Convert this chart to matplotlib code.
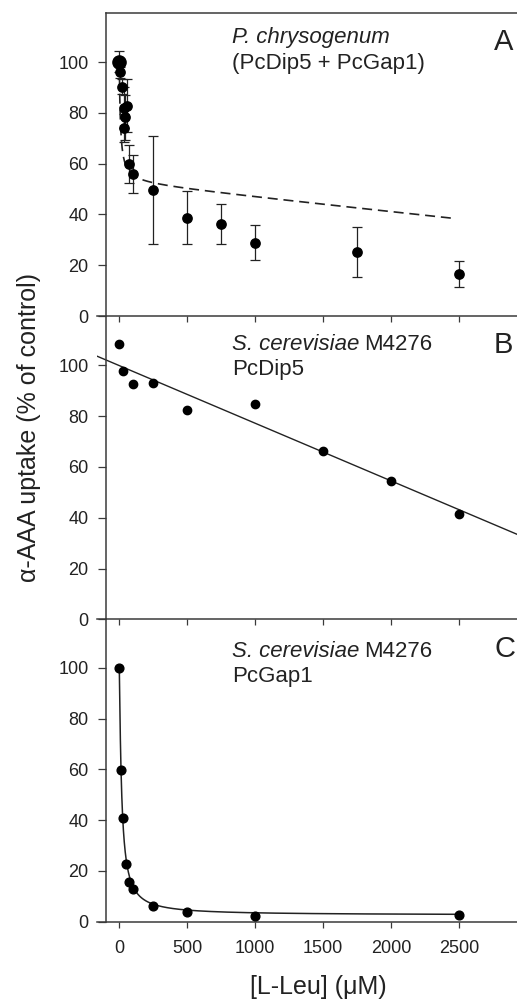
import numpy as np
import matplotlib
matplotlib.use("Agg")
import matplotlib.pyplot as plt

plt.rcParams['font.family'] = ['Liberation Sans', 'DejaVu Sans']

# ---------------- data ----------------
# Panel A: P. chrysogenum (PcDip5 + PcGap1), mean +/- error
a_x = [0, 5, 17, 32, 34, 42, 54, 75, 100, 250, 500, 750, 1000, 1750, 2500]
a_y = [100.1, 95.9, 90.3, 74.1, 82.0, 78.2, 82.8, 59.8, 55.8, 49.6, 38.7, 36.1, 28.9, 25.3, 16.5]
a_err = [4.2, 2.0, 3.0, 5.5, 8.0, 9.0, 10.5, 7.4, 7.5, 21.1, 10.4, 7.9, 6.9, 9.9, 5.0]
# dashed model curve for panel A: fast saturable part + slow linear part
a_fast_amp, a_fast_k, a_base, a_slope = 47.7, 8.7, 52.3, 0.0057
a_curve_xmax = 2470

# Panel B: S. cerevisiae M4276 PcDip5
b_x = [0, 25, 100, 250, 500, 1000, 1500, 2000, 2500]
b_y = [108.5, 97.6, 92.8, 93.1, 82.6, 84.7, 66.1, 54.5, 41.3]
b_intercept, b_slope = 99.9, -0.0227

# Panel C: S. cerevisiae M4276 PcGap1
c_x = [0, 10, 25, 50, 75, 100, 250, 500, 1000, 2500]
c_y = [100.0, 59.7, 40.9, 22.8, 15.7, 12.7, 6.2, 3.7, 2.2, 2.6]
c_bottom, c_k, c_hill = 2.6, 17.2, 1.15

x_ticks = [0, 500, 1000, 1500, 2000, 2500]
y_ticks = [0, 20, 40, 60, 80, 100]

panel_letters = ['A', 'B', 'C']

# ---------------- layout ----------------
W, H = 517, 1000
fig = plt.figure(figsize=(W / 100, H / 100), dpi=100)

XMIN, XMAX = -164, 2926
YMIN, YMAX = 0, 119.2
SPINE_X = -98
ax_left = 97 / W
ax_width = (517 - 97) / W
bottoms_px = [316.0, 619.3, 921.7]
height_px = 302.7

dark = '#222222'
spine_col = '#3a3a3a'

axes = []
for i, bpx in enumerate(bottoms_px):
    ax = fig.add_axes([ax_left, 1 - bpx / H, ax_width, height_px / H])
    ax.set_xlim(XMIN, XMAX)
    ax.set_ylim(YMIN, YMAX)
    ax.set_facecolor('none')
    ax.spines['right'].set_visible(False)
    ax.spines['left'].set_position(('data', SPINE_X))
    if i == 0:
        ax.spines['top'].set_bounds(SPINE_X, XMAX)
    else:
        ax.spines['top'].set_visible(False)
    for s in ['left', 'bottom', 'top']:
        ax.spines[s].set_color(spine_col)
        ax.spines[s].set_linewidth(1.1)
    ax.set_xticks(x_ticks)
    ax.set_yticks(y_ticks)
    ax.tick_params(axis='y', direction='out', length=5.5, width=0.9, pad=7.0,
                   labelsize=13, colors=spine_col, labelcolor=dark)
    ax.tick_params(axis='x', direction='out', length=4.5, width=0.9, pad=9,
                   labelsize=13, colors=spine_col, labelcolor=dark,
                   labelbottom=(i == 2))
    axes.append(ax)

axA, axB, axC = axes

# Panel A
xa = np.linspace(0, a_curve_xmax, 2000)
ya = a_base - a_slope * xa + a_fast_amp * a_fast_k / (a_fast_k + xa)
axA.plot(xa, ya, color=dark, lw=1.2, dashes=(6, 3.5))
axA.errorbar(a_x, a_y, yerr=a_err, fmt='none', ecolor=dark, elinewidth=0.9,
             capsize=3.3, capthick=0.9, zorder=3)
axA.plot(a_x, a_y, 'o', color='black', ms=6.7, zorder=4)
axA.plot(a_x[:1], a_y[:1], 'o', color='black', ms=9.5, zorder=4)

# Panel B
xb = np.array([XMIN, XMAX])
axB.plot(xb, b_intercept + b_slope * xb, color=dark, lw=1.0)
axB.plot(b_x, b_y, 'o', color='black', ms=6.0, zorder=4)

# Panel C
xc = np.concatenate([np.linspace(0, 1, 50), np.linspace(1, 2500, 4000)])
yc = c_bottom + (100 - c_bottom) / (1 + (xc / c_k) ** c_hill)
axC.plot(xc, yc, color=dark, lw=1.1)
axC.plot(c_x, c_y, 'o', color='black', ms=6.3, zorder=4)

# ---------------- texts ----------------
def fx(px):
    return px / W

def fy(py):
    return 1 - py / H

# panel A label text
fig.text(fx(232), fy(43.5), "P. chrysogenum", fontsize=16, style='italic',
         color=dark, va='baseline', ha='left')
fig.text(fx(232), fy(68.5), "(PcDip5 + PcGap1)", fontsize=16,
         color=dark, va='baseline', ha='left')
# panel B
fig.text(fx(232), fy(350), "S. cerevisiae", fontsize=16, style='italic',
         color=dark, va='baseline', ha='left')
fig.text(fx(364), fy(350), "M4276", fontsize=16,
         color=dark, va='baseline', ha='left')
fig.text(fx(232), fy(375), "PcDip5", fontsize=16,
         color=dark, va='baseline', ha='left')
# panel C
fig.text(fx(232), fy(657), "S. cerevisiae", fontsize=16, style='italic',
         color=dark, va='baseline', ha='left')
fig.text(fx(364), fy(657), "M4276", fontsize=16,
         color=dark, va='baseline', ha='left')
fig.text(fx(232), fy(682), "PcGap1", fontsize=16,
         color=dark, va='baseline', ha='left')

# panel letters
for letter, ypx in zip(panel_letters, [50, 353, 657]):
    fig.text(fx(494), fy(ypx), letter, fontsize=21, color=dark,
             va='baseline', ha='left')

# axis labels
fig.text(fx(29), fy(428), "\u03b1-AAA uptake (% of control)", fontsize=18,
         rotation=90, color=dark, ha='center', va='center')
fig.text(fx(318), fy(987), "[L-Leu] (\u03bcM)", fontsize=18, color=dark,
         ha='center', va='center')

fig.savefig("out.png", dpi=100)
